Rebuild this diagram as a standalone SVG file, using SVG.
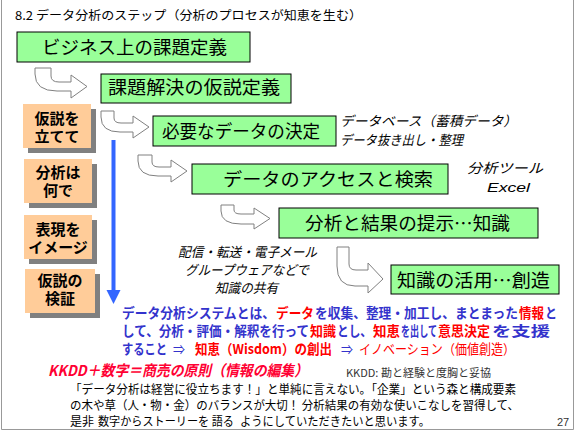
<svg xmlns="http://www.w3.org/2000/svg" width="576" height="432" viewBox="0 0 576 432">
<style>
text{font-family:"Noto Sans CJK JP","Liberation Sans",sans-serif;}
.g{fill:#99FF99;stroke:#000;stroke-width:1;}
.gt{font-size:18px;text-anchor:middle;fill:#000;}
.o{fill:#FFCC99;}
.sh{fill:#808080;}
.ot{font-size:15px;font-weight:bold;text-anchor:middle;fill:#000;}
.bend{fill:#fff;stroke:#808080;stroke-width:1;stroke-linejoin:round;}
.it{font-size:13.5px;font-style:italic;fill:#000;}
.bl{font-size:13.5px;font-weight:bold;fill:#3333CC;}
.rb{font-size:13.5px;font-weight:bold;fill:#FF0000;}
.r{fill:#FF0000;}
.p{font-size:12px;fill:#000;}
</style>
<rect width="576" height="432" fill="#fff"/>
<path d="M1.5,0 V429.5 H573.5 V0" fill="none" stroke="#999" stroke-width="1"/>
<text x="15" y="20" font-size="12" textLength="347" lengthAdjust="spacingAndGlyphs">8.2 データ分析のステップ（分析のプロセスが知恵を生む）</text>

<g id="connectors">
<path class="bend" d="M35,68 H51 V76 Q51,82 59,82 H71 V75 L87,86.5 L71,98 V91 H57 Q35,91 35,74 Z"/>
<path class="bend" d="M101,111 H114 V118 Q114,123 121,123 H133 V116 L149,127 L133,138 V132 H120 Q101,132 101,117 Z"/>
<path class="bend" d="M138,155 H152 V162 Q152,167 159,167 H171 V160 L187,171 L171,182 V176 H158 Q138,176 138,161 Z"/>
<path class="bend" d="M221,205 H234 V210 Q234,214 241,214 H254 V208 L270,218.5 L254,229 V224 H241 Q221,224 221,211 Z"/>
<path class="bend" d="M337,247 H349 V264 Q349,270 356,270 H368 V263 L383,279 L368,293 V286 H355 Q337,286 337,266 Z"/>
<line x1="113.5" y1="140" x2="113.5" y2="292" stroke="#3366FF" stroke-width="4"/>
<polygon points="106.5,290 120.5,290 113.5,304" fill="#3366FF"/>
</g>

<g id="box1"><rect class="g" x="17" y="32" width="233" height="30"/><text class="gt" x="134.5" y="54" font-size="19" textLength="185" lengthAdjust="spacingAndGlyphs">ビジネス上の課題定義</text></g>
<g id="box2"><rect class="g" x="101" y="74" width="190" height="29"/><text class="gt" x="194" y="94" font-size="19" textLength="172" lengthAdjust="spacingAndGlyphs">課題解決の仮説定義</text></g>
<g id="box3"><rect class="g" x="153" y="116" width="183" height="30"/><text class="gt" x="241" y="138" textLength="158" lengthAdjust="spacingAndGlyphs">必要なデータの決定</text></g>
<g id="box4"><rect class="g" x="192" y="164" width="256" height="30"/><text class="gt" x="328" y="186" textLength="210" lengthAdjust="spacingAndGlyphs">データのアクセスと検索</text></g>
<g id="box5"><rect class="g" x="279" y="208" width="259" height="30"/><text class="gt" x="407.5" y="230" textLength="205" lengthAdjust="spacingAndGlyphs">分析と結果の提示…知識</text></g>
<g id="box6"><rect class="g" x="391" y="265" width="168" height="29"/><text class="gt" x="473.5" y="287" textLength="153" lengthAdjust="spacingAndGlyphs">知識の活用…創造</text></g>

<g id="step1"><rect class="sh" x="28" y="109" width="68" height="44"/><rect class="o" x="23" y="104" width="68" height="44"/><text class="ot" x="57" y="124">仮説を</text><text class="ot" x="57" y="142">立てて</text></g>
<g id="step2"><rect class="sh" x="29" y="164" width="68" height="44"/><rect class="o" x="24" y="159" width="68" height="44"/><text class="ot" x="58" y="178">分析は</text><text class="ot" x="58" y="196">何で</text></g>
<g id="step3"><rect class="sh" x="29" y="220" width="68" height="44"/><rect class="o" x="24" y="215" width="68" height="44"/><text class="ot" x="58" y="235">表現を</text><text class="ot" x="58" y="253">イメージ</text></g>
<g id="step4"><rect class="sh" x="30" y="274" width="70" height="44"/><rect class="o" x="25" y="269" width="70" height="44"/><text class="ot" x="60" y="286">仮説の</text><text class="ot" x="60" y="304">検証</text></g>

<g id="notes">
<text class="it" x="340" y="126" textLength="177" lengthAdjust="spacingAndGlyphs">データベース（蓄積データ）</text>
<text class="it" x="340" y="145" textLength="123" lengthAdjust="spacingAndGlyphs">データ抜き出し・整理</text>
<text class="it" x="467" y="173" textLength="76" lengthAdjust="spacingAndGlyphs">分析ツール</text>
<text class="it" x="487" y="192" style="font-family:'Liberation Sans',sans-serif" textLength="43" lengthAdjust="spacingAndGlyphs">Excel</text>
<text class="it" x="178" y="257" font-size="12.5" textLength="139" lengthAdjust="spacingAndGlyphs">配信・転送・電子メール</text>
<text class="it" x="185" y="275" font-size="12.5" textLength="124" lengthAdjust="spacingAndGlyphs">グループウェアなどで</text>
<text class="it" x="215" y="293" font-size="12.5" textLength="63" lengthAdjust="spacingAndGlyphs">知識の共有</text>
</g>

<g id="summary">
<text class="bl" x="122" y="318" textLength="153" lengthAdjust="spacingAndGlyphs">データ分析システムとは、</text>
<text class="rb" x="276" y="318" textLength="38" lengthAdjust="spacingAndGlyphs">データ</text>
<text class="bl" x="315" y="318" textLength="203" lengthAdjust="spacingAndGlyphs">を収集、整理・加工し、まとまった</text>
<text class="rb" x="519" y="318" textLength="25" lengthAdjust="spacingAndGlyphs">情報</text>
<text class="bl" x="545" y="318" textLength="12" lengthAdjust="spacingAndGlyphs">と</text>
<text class="bl" x="122" y="336" textLength="187" lengthAdjust="spacingAndGlyphs">して、分析・評価・解釈を行って</text>
<text class="rb" x="310" y="336" textLength="26" lengthAdjust="spacingAndGlyphs">知識</text>
<text class="bl" x="337" y="336" textLength="35" lengthAdjust="spacingAndGlyphs">とし、</text>
<text class="rb" x="373" y="336" textLength="27" lengthAdjust="spacingAndGlyphs">知恵</text>
<text class="bl" x="401" y="336" textLength="36" lengthAdjust="spacingAndGlyphs">を出して</text>
<text class="rb" x="438" y="336" textLength="52" lengthAdjust="spacingAndGlyphs">意思決定</text>
<text class="bl" x="492" y="336" textLength="58" lengthAdjust="spacingAndGlyphs">を支援</text>
<text class="bl" x="122" y="354" textLength="45" lengthAdjust="spacingAndGlyphs">すること</text>
<text x="173" y="354" font-size="13" fill="#3333CC" textLength="12" lengthAdjust="spacingAndGlyphs">⇒</text>
<text class="rb" x="195" y="354" textLength="137" lengthAdjust="spacingAndGlyphs">知恵（Wisdom）の創出</text>
<text x="341" y="354" font-size="13" fill="#3333CC" textLength="12" lengthAdjust="spacingAndGlyphs">⇒</text>
<text x="359" y="354" font-size="13.5" fill="#FF0000" textLength="156" lengthAdjust="spacingAndGlyphs">イノベーション（価値創造）</text>
</g>

<g id="footer">
<text x="48" y="376" font-size="15" font-weight="bold" font-style="italic" fill="#FF0033" textLength="260" lengthAdjust="spacingAndGlyphs">KKDD＋数字＝商売の原則（情報の編集）</text>
<text x="346" y="377" font-size="11" fill="#333" textLength="145" lengthAdjust="spacingAndGlyphs">KKDD: 勘と経験と度胸と妥協</text>
<text class="p" x="70" y="394" textLength="446" lengthAdjust="spacingAndGlyphs">「データ分析は経営に役立ちます！」と単純に言えない。「企業」という森と構成要素</text>
<text class="p" x="70" y="410" textLength="449" lengthAdjust="spacingAndGlyphs">の木や草（人・物・金）のバランスが大切！ 分析結果の有効な使いこなしを習得して、</text>
<text class="p" x="70" y="426">是非</text>
<text class="p r" x="98" y="426" textLength="136" lengthAdjust="spacingAndGlyphs">数字からストーリーを 語る</text>
<text class="p" x="240" y="426" textLength="190" lengthAdjust="spacingAndGlyphs">ようにしていただきたいと思います。</text>
<text x="557" y="426" font-size="11" fill="#333" style="font-family:'Liberation Sans',sans-serif">27</text>
</g>
</svg>
